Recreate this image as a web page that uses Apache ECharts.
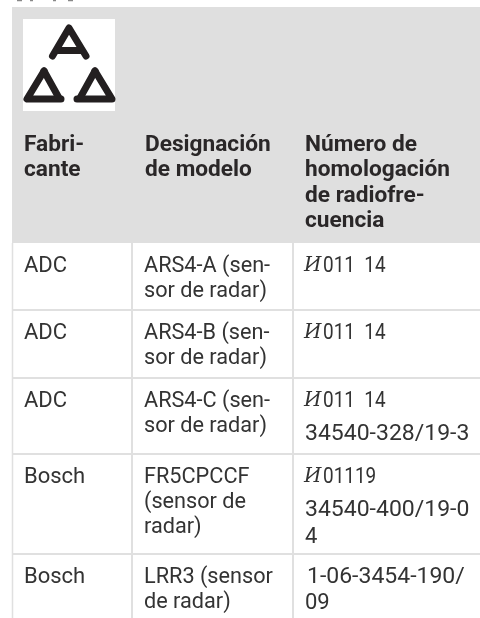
<!DOCTYPE html>
<html><head><meta charset="utf-8">
<style>html,body{margin:0;padding:0;background:#fff}#c{width:480px;height:618px}</style>
<script src="https://cdn.jsdelivr.net/npm/echarts@6/dist/echarts.min.js"></script>
</head><body><div id="c"></div>
<script>
const headerCells = [
  ['Fabri-','cante'],
  ['Designación','de modelo'],
  ['Número de','homologación','de radiofre-','cuencia']
];
const makers = ['ADC','ADC','ADC','Bosch','Bosch'];
const models = [
  ['ARS4-A (sen-','sor de radar)'],
  ['ARS4-B (sen-','sor de radar)'],
  ['ARS4-C (sen-','sor de radar)'],
  ['FR5CPCCF','(sensor de','radar)'],
  ['LRR3 (sensor','de radar)']
];
const numbers = [
  ['011  14'],
  ['011  14'],
  ['011  14','34540-328/19-3'],
  ['01119','34540-400/19-0','4'],
  ['1-06-3454-190/','09']
];
const numberHasCyr = [true,true,true,true,false];

const font = 'Roboto, "Noto Sans", sans-serif';
const SZ=22;
const L=12,R=480,HT=7,HB=243,C1=132,C2=293,BOT=618;
const rowTops=[243,310,378,454,554];
const gr=[];
gr.push({type:'rect',shape:{x:L,y:HT,width:R-L,height:HB-HT},style:{fill:'#dfdfdf'}});
gr.push({type:'rect',shape:{x:23,y:19,width:92,height:92},style:{fill:'#fff'}});
const ink='#231f20';
function poly(points,w){return {type:'polyline',shape:{points},style:{fill:'none',stroke:ink,lineWidth:w||7,lineJoin:'round',lineCap:'round'}};}
gr.push(poly([[52.5,56],[69,28],[86,56]]));
gr.push(poly([[57,50.5],[81,50.5]]));
gr.push(poly([[44,71],[27,99],[61,99]]));
gr.push(poly([[44,71],[59,98]]));
gr.push(poly([[77,99],[112,99],[95,71]]));
gr.push(poly([[95,71],[80,98]]));
[[17,22],[30,33],[53,56],[68,73]].forEach(p=>gr.push({type:'line',shape:{x1:p[0],y1:0.5,x2:p[1],y2:0.5},style:{stroke:'#888',lineWidth:1.5}}));
[C1,C2].forEach(x=>gr.push({type:'line',shape:{x1:x,y1:HB,x2:x,y2:BOT},style:{stroke:'#e0e0e0',lineWidth:2}}));
gr.push({type:'line',shape:{x1:L+.5,y1:HB,x2:L+.5,y2:BOT},style:{stroke:'#e0e0e0',lineWidth:1.5}});
rowTops.slice(1).forEach(y=>gr.push({type:'line',shape:{x1:L,y1:y,x2:R,y2:y},style:{stroke:'#e0e0e0',lineWidth:2}}));
function text(s,x,y,bold,sx,weightFont){gr.push({type:'text',x:x,y:y,scaleX:sx||1,style:{text:s,x:0,y:0,fill:bold?'#2a2728':'#333',font:weightFont||((bold?'700 ':'400 ')+SZ+'px '+font),textVerticalAlign:'middle',textBaseline:'middle'}});}
const hxs=[24,145,305];
headerCells.forEach((c,i)=>c.forEach((s,j)=>text(s,hxs[i],145.5+j*25.3,true,1.03)));
makers.forEach((m,i)=>text(m,24,rowTops[i]+23,false));
models.forEach((c,i)=>c.forEach((s,j)=>text(s,144,rowTops[i]+23+j*25.4,false,0.985)));
const rowGap=[0,0,33,33,26];
numbers.forEach((c,i)=>{
  c.forEach((s,j)=>{
    let y=rowTops[i]+23;
    if(j>=1) y+=rowGap[i];
    if(j>=2) y+=27;
    if(j===0&&numberHasCyr[i]){
      text('И',304,y,false,1,'italic 400 20px "DejaVu Serif", serif');
      text(s,323,y,false,0.86);
    } else text(s,i===4&&j===0?307:305,y,false,s.length>10?1.045:1);
  });
});
const chart=echarts.init(document.getElementById('c'),null,{renderer:'canvas'});
chart.setOption({animation:false,backgroundColor:'#fff',graphic:{elements:gr}});
</script></body></html>
